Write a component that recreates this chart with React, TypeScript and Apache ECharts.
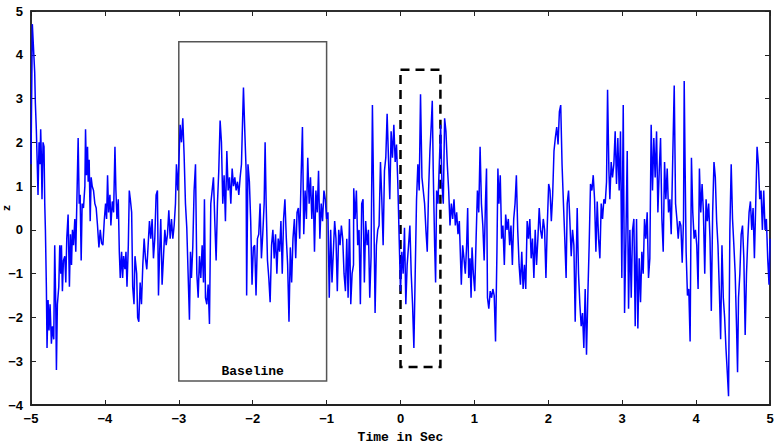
import React, { useEffect, useRef } from "react";
import * as echarts from "echarts";

// [time in sec, amplitude]
const signalPoints: [number, number][] = [
  [-5.0, 1.5], [-4.982, 4.7], [-4.95, 3.6], [-4.941, 2.9], [-4.928, 2.3], [-4.914, 1.4], [-4.905, 0.8],
  [-4.891, 2.0], [-4.878, 1.5], [-4.869, 2.3], [-4.86, 1.7], [-4.851, 0.7], [-4.837, 2.0], [-4.824, 1.9],
  [-4.814, 0.6], [-4.805, 0.0], [-4.792, -1.3], [-4.783, -2.7], [-4.769, -1.6], [-4.756, -2.3], [-4.742, -1.7],
  [-4.724, -2.6], [-4.71, -2.2], [-4.692, -2.5], [-4.679, -0.35], [-4.665, -1.7], [-4.656, -3.2], [-4.643, -1.7],
  [-4.624, -1.3], [-4.611, -0.35], [-4.597, -1.0], [-4.588, -0.35], [-4.575, -1.4], [-4.561, -0.7], [-4.543, -0.6],
  [-4.529, -1.2], [-4.516, -0.2], [-4.498, 0.35], [-4.48, -1.3], [-4.466, -0.1], [-4.452, -0.8], [-4.439, 0.0],
  [-4.425, -0.35], [-4.407, 0.25], [-4.394, -0.5], [-4.38, 0.6], [-4.362, 2.1], [-4.348, 0.6], [-4.335, 0.8],
  [-4.321, -0.7], [-4.308, 0.6], [-4.29, 0.5], [-4.271, 1.0], [-4.262, 2.3], [-4.249, 1.25], [-4.235, 1.9],
  [-4.226, 1.1], [-4.213, 1.6], [-4.199, 0.2], [-4.186, 1.2], [-4.172, 1.0], [-4.154, 0.9], [-4.136, 0.6],
  [-4.118, 0.5], [-4.1, 0.1], [-4.081, -0.4], [-4.063, 0.0], [-4.045, -0.3], [-4.027, -0.35], [-4.009, 0.2],
  [-3.991, 0.6], [-3.977, 0.25], [-3.964, 1.25], [-3.95, 0.4], [-3.932, 0.8], [-3.919, 0.1], [-3.9, 0.65],
  [-3.882, 0.4], [-3.864, 1.9], [-3.851, 0.9], [-3.837, 0.25], [-3.819, 0.7], [-3.805, -0.5], [-3.792, -1.1],
  [-3.774, -0.5], [-3.76, -1.1], [-3.747, -0.6], [-3.729, -0.9], [-3.715, -0.5], [-3.701, -1.3], [-3.683, -0.35],
  [-3.67, 0.9], [-3.656, 0.7], [-3.638, 0.4], [-3.624, -1.3], [-3.606, -1.7], [-3.593, -0.6], [-3.57, -1.0],
  [-3.557, -2.0], [-3.541, -2.1], [-3.523, -1.2], [-3.505, -1.7], [-3.487, -0.8], [-3.469, -0.2], [-3.451, -0.65],
  [-3.433, -0.9], [-3.415, -0.35], [-3.397, 0.2], [-3.379, -0.2], [-3.361, 0.25], [-3.343, -0.65], [-3.325, -0.2],
  [-3.307, 0.8], [-3.289, 0.9], [-3.275, -1.5], [-3.262, -0.65], [-3.244, 0.25], [-3.226, -1.25], [-3.207, -0.6],
  [-3.189, 0.0], [-3.171, -0.35], [-3.153, -0.1], [-3.135, 0.45], [-3.117, -0.2], [-3.099, 0.25], [-3.081, -0.2],
  [-3.063, 0.1], [-3.045, 0.6], [-3.032, 1.5], [-3.014, 0.9], [-3.0, 1.5], [-2.982, 2.4], [-2.964, 2.0],
  [-2.946, 2.55], [-2.928, 1.7], [-2.91, 0.6], [-2.892, 0.05], [-2.874, -1.0], [-2.856, -2.05], [-2.842, -0.5],
  [-2.829, -1.1], [-2.811, -0.4], [-2.793, 0.9], [-2.774, 1.5], [-2.756, -1.0], [-2.738, -1.55], [-2.72, -0.6],
  [-2.702, -1.1], [-2.684, -0.35], [-2.666, -1.2], [-2.653, 0.7], [-2.639, -1.55], [-2.621, -1.7], [-2.603, -1.25],
  [-2.585, -2.15], [-2.567, 0.6], [-2.549, 0.9], [-2.531, 1.2], [-2.513, 0.2], [-2.495, -0.7], [-2.477, 0.6],
  [-2.459, 1.35], [-2.441, 2.5], [-2.423, 2.0], [-2.405, 0.6], [-2.387, 1.25], [-2.369, 0.2], [-2.35, 1.8],
  [-2.332, 0.9], [-2.314, 1.2], [-2.296, 0.6], [-2.278, 1.4], [-2.26, 1.0], [-2.242, 1.2], [-2.224, 0.9],
  [-2.206, 1.1], [-2.188, 0.8], [-2.17, 1.2], [-2.152, 1.5], [-2.143, 2.1], [-2.125, 3.25], [-2.107, 2.25],
  [-2.089, 1.35], [-2.082, -1.5], [-2.064, 1.5], [-2.045, 1.1], [-2.027, 0.2], [-2.009, -1.25], [-1.991, -0.4],
  [-1.973, -0.35], [-1.955, -1.5], [-1.936, -0.2], [-1.918, -0.1], [-1.9, 0.6], [-1.882, -0.65], [-1.864, -0.1],
  [-1.845, 0.6], [-1.832, 2.0], [-1.818, 0.6], [-1.8, -0.7], [-1.782, -1.1], [-1.764, -1.65], [-1.745, -0.35],
  [-1.727, 0.0], [-1.709, -0.65], [-1.691, -0.1], [-1.673, -1.0], [-1.655, -0.2], [-1.636, -0.5], [-1.618, 0.2],
  [-1.6, -1.0], [-1.582, 0.25], [-1.564, 0.7], [-1.545, -0.2], [-1.527, -0.8], [-1.509, -2.1], [-1.491, -0.4],
  [-1.473, -1.2], [-1.455, -0.2], [-1.436, 0.25], [-1.418, -0.65], [-1.4, 0.4], [-1.382, 0.5], [-1.364, -0.2],
  [-1.345, 1.2], [-1.327, 2.35], [-1.309, -0.1], [-1.291, 0.9], [-1.273, 0.25], [-1.255, 1.65], [-1.236, 0.6],
  [-1.218, 1.2], [-1.2, 0.25], [-1.182, 1.0], [-1.164, -0.5], [-1.145, 0.9], [-1.127, 0.4], [-1.109, 1.35],
  [-1.091, -0.2], [-1.073, 0.6], [-1.055, 0.2], [-1.036, 0.9], [-1.018, 0.7], [-1.0, 0.25], [-0.982, 0.4],
  [-0.964, -1.55], [-0.945, 0.0], [-0.927, -1.2], [-0.909, -0.5], [-0.891, 0.2], [-0.873, -0.2], [-0.855, -1.4],
  [-0.836, 0.0], [-0.818, -0.35], [-0.8, 0.1], [-0.782, -0.2], [-0.764, -1.0], [-0.745, -1.4], [-0.727, -0.2],
  [-0.709, -1.55], [-0.691, 0.25], [-0.673, -1.7], [-0.655, -1.0], [-0.636, -0.8], [-0.633, 0.95], [-0.615, 0.25],
  [-0.597, 0.9], [-0.579, -0.35], [-0.561, 0.0], [-0.543, -1.7], [-0.525, 0.6], [-0.507, 0.7], [-0.489, -1.2],
  [-0.471, 0.2], [-0.452, -0.35], [-0.434, 0.0], [-0.416, -1.55], [-0.398, -0.6], [-0.38, 2.85], [-0.362, 0.6],
  [-0.344, -1.9], [-0.326, -0.35], [-0.308, 0.0], [-0.29, 0.1], [-0.271, 1.55], [-0.253, 0.7], [-0.235, -0.35],
  [-0.217, 1.35], [-0.199, 1.65], [-0.181, 2.65], [-0.163, 1.65], [-0.145, 0.7], [-0.127, 2.25], [-0.109, 1.65],
  [-0.09, 2.4], [-0.072, 1.55], [-0.054, 1.95], [-0.036, 1.05], [-0.018, -0.2], [0.0, -1.4], [0.018, -0.5],
  [0.036, -1.0], [0.054, 0.05], [0.072, -1.7], [0.09, -0.8], [0.109, -0.35], [0.127, 0.1], [0.145, -1.0],
  [0.163, -1.7], [0.181, -2.7], [0.199, -1.0], [0.217, 0.7], [0.235, 1.5], [0.253, 0.9], [0.271, 3.1],
  [0.29, 1.2], [0.308, 0.9], [0.326, 0.6], [0.344, 0.0], [0.362, -0.5], [0.38, 0.9], [0.398, 1.8],
  [0.416, 2.4], [0.43, 2.95], [0.443, 1.35], [0.462, -0.35], [0.475, -1.2], [0.489, 0.9], [0.507, 0.6],
  [0.525, 1.5], [0.543, 2.4], [0.561, 1.05], [0.579, 0.6], [0.597, 2.55], [0.615, 2.25], [0.633, 1.5],
  [0.652, 0.9], [0.67, 0.1], [0.688, 0.6], [0.706, 0.25], [0.724, 0.7], [0.742, 0.1], [0.76, 0.4],
  [0.778, -0.1], [0.796, 0.2], [0.823, -1.25], [0.841, -0.35], [0.859, -0.65], [0.877, -1.0], [0.895, -0.35],
  [0.909, 0.5], [0.923, -1.1], [0.941, -0.65], [0.955, -1.55], [0.968, -0.4], [0.986, -1.0], [1.005, -1.4],
  [1.023, -0.2], [1.041, 0.9], [1.059, 0.4], [1.077, 1.9], [1.095, 0.6], [1.114, 0.1], [1.132, -0.7],
  [1.15, 0.65], [1.164, 1.4], [1.177, -1.55], [1.195, -1.8], [1.214, -1.4], [1.232, -1.55], [1.25, -1.35],
  [1.268, -1.5], [1.286, -2.55], [1.305, -0.5], [1.318, 1.4], [1.332, 0.6], [1.35, 1.25], [1.368, -0.2],
  [1.386, 0.1], [1.405, -0.8], [1.423, 0.35], [1.441, 0.0], [1.459, 0.25], [1.477, -0.35], [1.495, 0.1],
  [1.514, -0.8], [1.532, 0.25], [1.55, 0.6], [1.568, 1.25], [1.586, 0.0], [1.605, -0.8], [1.623, -1.25],
  [1.641, -0.5], [1.659, -1.35], [1.677, -0.8], [1.695, -1.35], [1.714, 0.2], [1.732, -0.2], [1.75, 0.25],
  [1.768, -0.65], [1.786, -0.2], [1.805, -1.1], [1.823, 0.0], [1.841, -0.8], [1.859, -0.2], [1.877, 0.5],
  [1.895, 0.0], [1.914, -0.2], [1.932, 0.25], [1.95, 0.0], [1.968, -1.1], [1.986, 0.1], [2.005, 1.05],
  [2.023, 0.9], [2.041, 0.2], [2.059, 0.8], [2.077, 1.8], [2.095, 2.1], [2.114, 2.35], [2.132, 1.95],
  [2.15, 2.7], [2.168, 2.85], [2.186, 1.5], [2.205, 0.6], [2.223, -0.2], [2.241, -1.1], [2.256, 0.6],
  [2.274, 0.9], [2.292, 0.2], [2.31, -0.6], [2.328, 0.0], [2.346, -0.35], [2.364, -2.1], [2.382, -0.35],
  [2.391, 0.5], [2.409, -1.0], [2.427, -1.7], [2.445, -2.2], [2.463, -1.9], [2.481, -2.7], [2.499, -1.35],
  [2.517, -2.85], [2.535, -1.5], [2.553, -0.35], [2.571, 1.05], [2.59, 0.9], [2.608, 1.25], [2.626, 0.7],
  [2.644, -0.5], [2.662, 0.65], [2.68, -0.2], [2.698, -0.65], [2.716, 0.6], [2.734, 0.25], [2.752, 0.7],
  [2.77, 0.6], [2.788, 1.1], [2.802, 3.2], [2.82, 1.35], [2.833, 0.7], [2.851, 1.55], [2.869, 1.2],
  [2.887, 1.5], [2.905, 2.25], [2.923, 1.05], [2.941, 2.1], [2.959, 0.9], [2.977, 2.25], [2.995, -1.1],
  [3.014, 2.85], [3.032, -1.9], [3.05, -0.2], [3.068, 1.8], [3.086, -1.8], [3.104, 0.0], [3.122, -1.55],
  [3.14, 0.0], [3.158, 0.25], [3.176, -2.2], [3.194, 0.25], [3.212, -2.25], [3.23, -0.65], [3.248, -1.65],
  [3.266, -0.5], [3.284, -1.0], [3.302, 0.25], [3.32, -0.2], [3.338, 0.4], [3.356, -1.1], [3.374, -0.65],
  [3.392, 2.4], [3.41, 0.9], [3.428, 2.1], [3.446, 1.2], [3.465, 2.25], [3.483, 0.4], [3.501, 1.35],
  [3.519, 2.1], [3.537, 0.25], [3.555, -0.5], [3.573, 1.55], [3.591, 0.7], [3.609, 1.4], [3.627, 0.4],
  [3.645, 0.7], [3.663, -0.1], [3.704, 3.3], [3.722, 0.6], [3.74, 0.25], [3.758, -0.2], [3.776, 0.2],
  [3.794, 0.1], [3.812, -0.75], [3.83, 0.25], [3.839, 3.4], [3.852, 1.35], [3.865, -0.5], [3.883, -1.5],
  [3.901, -1.35], [3.919, -2.55], [3.937, 1.65], [3.955, 0.4], [3.973, -0.2], [3.991, 0.0], [4.009, -0.35],
  [4.027, -1.35], [4.045, 1.4], [4.063, 0.4], [4.081, 1.05], [4.099, 0.4], [4.117, -1.0], [4.135, 0.7],
  [4.152, 0.2], [4.17, 0.6], [4.188, -0.2], [4.206, -1.85], [4.224, 0.4], [4.242, 1.55], [4.26, 1.2],
  [4.278, 0.2], [4.296, -0.35], [4.314, -1.35], [4.332, -2.5], [4.35, -0.35], [4.368, -1.55], [4.386, -2.0],
  [4.404, -2.7], [4.422, -3.25], [4.439, -3.8], [4.457, 0.0], [4.475, 1.5], [4.493, 0.25], [4.511, -0.35],
  [4.529, -1.0], [4.547, -2.2], [4.561, -3.25], [4.574, -1.55], [4.592, -1.0], [4.61, -0.1], [4.628, 0.1],
  [4.646, -0.65], [4.664, -2.4], [4.682, -1.0], [4.7, -0.2], [4.717, 0.4], [4.735, 0.65], [4.753, 0.0],
  [4.771, 0.5], [4.789, -0.65], [4.807, 0.6], [4.825, 1.9], [4.843, 1.5], [4.861, 0.7], [4.879, 0.9],
  [4.897, 0.0], [4.915, 0.9], [4.933, 0.0], [4.951, 0.25], [4.969, -0.65], [4.987, -1.25], [5.0, -0.2],
];

// Annotation boxes: [xStart, yTop, xEnd, yBottom]
const baselineBox = [-3, 4.3, -1, -3.45];
const responseBox = [0, 3.66, 0.54, -3.13];
const baselineLabel = "Baseline";
const xAxisTitle = "Time in Sec";
const yAxisTitle = "z";

const xTicks = { min: -5, max: 5, interval: 1 };
const yTicks = { min: -4, max: 5, interval: 1 };

const tickFmt = (v: number) => String(v).replace("-", "\u2212");

export default function App() {
  const ref = useRef<HTMLDivElement>(null);
  useEffect(() => {
    document.body.style.margin = "0";
    const chart = echarts.init(ref.current!, undefined, { renderer: "svg" });
    const labelFont = {
      color: "#000",
      fontFamily: "Liberation Sans, Arial, sans-serif",
      fontWeight: "bold" as const,
      fontSize: 13,
    };
    chart.setOption({
      animation: false,
      backgroundColor: "#fff",
      grid: {
        left: 31,
        right: 11,
        top: 11,
        bottom: 41,
        containLabel: false,
        outerBoundsMode: "none",
        show: true,
        borderColor: "#222",
        borderWidth: 1.5,
        backgroundColor: "transparent",
      },
      xAxis: [
        {
          type: "value",
          ...xTicks,
          position: "bottom",
          axisLine: { show: true, onZero: false, lineStyle: { color: "#222", width: 2 } },
          axisTick: { show: true, inside: true, length: 5, lineStyle: { color: "#222", width: 1 } },
          axisLabel: { ...labelFont, margin: 7, formatter: tickFmt },
          splitLine: { show: false },
          name: xAxisTitle,
          nameLocation: "middle",
          nameGap: 26,
          nameMoveOverlap: false,
          nameTextStyle: {
            color: "#000",
            fontFamily: "Liberation Mono, Courier New, monospace",
            fontWeight: "bold",
            fontSize: 13,
          },
        },
        {
          type: "value",
          ...xTicks,
          position: "top",
          axisLine: { show: true, onZero: false, lineStyle: { color: "#222", width: 1.5 } },
          axisTick: { show: true, inside: true, length: 5, lineStyle: { color: "#222", width: 1 } },
          axisLabel: { show: false },
          splitLine: { show: false },
        },
      ],
      yAxis: [
        {
          type: "value",
          ...yTicks,
          position: "left",
          axisLine: { show: true, onZero: false, lineStyle: { color: "#222", width: 1.5 } },
          axisTick: { show: true, inside: true, length: 5, lineStyle: { color: "#222", width: 1 } },
          axisLabel: { ...labelFont, margin: 8, formatter: tickFmt },
          splitLine: { show: false },
          name: yAxisTitle,
          nameLocation: "middle",
          nameGap: 19,
          nameRotate: 90,
          nameMoveOverlap: false,
          nameTextStyle: {
            color: "#000",
            fontFamily: "Liberation Mono, Courier New, monospace",
            fontWeight: "bold",
            fontSize: 11,
          },
        },
        {
          type: "value",
          ...yTicks,
          position: "right",
          axisLine: { show: true, onZero: false, lineStyle: { color: "#222", width: 1.5 } },
          axisTick: { show: true, inside: true, length: 5, lineStyle: { color: "#222", width: 1 } },
          axisLabel: { show: false },
          splitLine: { show: false },
        },
      ],
      series: [
        {
          type: "line",
          data: signalPoints,
          xAxisIndex: 0,
          yAxisIndex: 0,
          showSymbol: false,
          symbol: "none",
          lineStyle: { color: "#0000ff", width: 1.5 },
          z: 3,
          markArea: {
            silent: true,
            data: [
              [
                {
                  coord: [baselineBox[0], baselineBox[1]],
                  itemStyle: { color: "transparent", borderColor: "#555", borderWidth: 1.5 },
                  label: {
                    show: true,
                    position: "insideBottom",
                    formatter: baselineLabel,
                    distance: 4,
                    color: "#000",
                    fontFamily: "Liberation Mono, Courier New, monospace",
                    fontWeight: "bold",
                    fontSize: 13,
                  },
                },
                { coord: [baselineBox[2], baselineBox[3]] },
              ],
              [
                {
                  coord: [responseBox[0], responseBox[1]],
                  itemStyle: {
                    color: "transparent",
                    borderColor: "#000",
                    borderWidth: 2.5,
                    borderType: [9, 6],
                  },
                  label: { show: false },
                },
                { coord: [responseBox[2], responseBox[3]] },
              ],
            ],
          },
        },
      ],
    });
    return () => chart.dispose();
  }, []);
  return <div ref={ref} style={{ position: "absolute", left: 0, top: 0, width: 781, height: 446 }} />;
}
